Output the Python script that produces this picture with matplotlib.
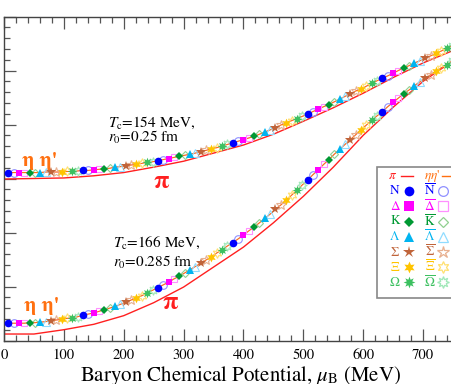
import numpy as np
import matplotlib
matplotlib.use('Agg')
import matplotlib.pyplot as plt
from matplotlib.lines import Line2D
from matplotlib.patches import Rectangle
from matplotlib.ticker import MultipleLocator

plt.rcParams['font.family'] = ['STIXGeneral', 'DejaVu Serif']
plt.rcParams['mathtext.fontset'] = 'stix'

# Marker grid: particle / antiparticle points alternate every 125/14 MeV
MU0 = 7.0
MU_STEP = 125.0 / 14

# Tc = 154 MeV, r0 = 0.25 fm  (hadron curves, markers lie on them)
upper_y = [3.11, 3.11, 3.11, 3.11, 3.11, 3.11, 3.11, 3.12, 3.12, 3.12,
           3.12, 3.13, 3.13, 3.14, 3.15, 3.15, 3.16, 3.17, 3.18, 3.19,
           3.21, 3.22, 3.23, 3.25, 3.26, 3.28, 3.30, 3.31, 3.33, 3.35,
           3.37, 3.39, 3.41, 3.43, 3.45, 3.47, 3.50, 3.52, 3.55, 3.57,
           3.60, 3.63, 3.66, 3.69, 3.72, 3.75, 3.78, 3.82, 3.86, 3.90,
           3.94, 3.99, 4.03, 4.07, 4.11, 4.15, 4.19, 4.24, 4.28, 4.33,
           4.37, 4.42, 4.47, 4.52, 4.57, 4.62, 4.66, 4.71, 4.76, 4.81,
           4.86, 4.90, 4.95, 5.00, 5.05, 5.09, 5.14, 5.18, 5.23, 5.27,
           5.32, 5.36, 5.41, 5.45]

# Tc = 166 MeV, r0 = 0.285 fm
lower_y = [0.32, 0.32, 0.32, 0.32, 0.33, 0.33, 0.34, 0.35, 0.36, 0.38,
           0.39, 0.41, 0.42, 0.44, 0.47, 0.49, 0.51, 0.54, 0.57, 0.60,
           0.63, 0.67, 0.71, 0.75, 0.79, 0.83, 0.88, 0.93, 0.98, 1.03,
           1.08, 1.14, 1.19, 1.25, 1.31, 1.37, 1.43, 1.49, 1.55, 1.62,
           1.68, 1.75, 1.81, 1.88, 1.95, 2.03, 2.10, 2.18, 2.26, 2.34,
           2.43, 2.51, 2.60, 2.69, 2.78, 2.88, 2.97, 3.07, 3.16, 3.26,
           3.35, 3.45, 3.54, 3.63, 3.72, 3.81, 3.90, 3.99, 4.08, 4.16,
           4.24, 4.33, 4.41, 4.49, 4.57, 4.64, 4.72, 4.79, 4.86, 4.92,
           4.99, 5.05, 5.11, 5.17]

# pion curves
mu_pi = [0, 50, 100, 150, 200, 250, 300, 350, 400, 450, 500, 550, 600, 650, 700, 750]
upper_pi = [2.99, 3.00, 3.01, 3.05, 3.11, 3.21, 3.32, 3.47, 3.62, 3.82,
            4.06, 4.31, 4.58, 4.87, 5.14, 5.37]
lower_pi = [0.12, 0.12, 0.20, 0.30, 0.46, 0.70, 0.99, 1.36, 1.73, 2.18,
            2.67, 3.21, 3.80, 4.32, 4.80, 5.18]

labels = ['N', r'$\Delta$', 'K', r'$\Lambda$', r'$\Sigma$', r'$\Xi$', r'$\Omega$']
anti_labels = [r'$\overline{\rm N}$', r'$\overline{\Delta}$', r'$\overline{\rm K}$',
               r'$\overline{\Lambda}$', r'$\overline{\Sigma}$', r'$\overline{\Xi}$',
               r'$\overline{\Omega}$']
colors = ['#0000ff', '#ff00ff', '#009933', '#00b4f0', '#c0643a', '#ffc400', '#3cc060']
light = ['#9090ff', '#ff90ff', '#90d090', '#90dcff', '#e8b090', '#ffe070', '#a0e8b8']
markers = ['o', 's', 'D', '^', '*', (6, 1, 0), (8, 1, 0)]
msizes = [5.5, 5.0, 4.0, 5.5, 7.5, 7.0, 7.0]

RED = '#ff2020'
ORANGE = '#ff7010'
W, H = 452, 384

fig = plt.figure(figsize=(W / 100, H / 100), dpi=100)
ax = fig.add_axes([4 / W, 1 - 340.5 / H, 473 / W, 324 / H])


def draw_branch(y, ypi):
    mu = MU0 + MU_STEP * np.arange(len(y))
    ax.plot(mu_pi, ypi, color=RED, lw=1.0, zorder=2)
    ax.plot(mu, y, color='#e0a0ff', lw=0.7, alpha=0.8, zorder=2)
    ax.plot(mu, y, color=ORANGE, lw=0.8, zorder=2)
    for k in range(7):
        ax.plot(mu, y, ls='none', marker=markers[k], color=colors[k],
                ms=msizes[k], mew=0, markevery=slice(2 * k, None, 14), zorder=4)
        ax.plot(mu, y, ls='none', marker=markers[k], mfc='none', mec=light[k],
                ms=msizes[k], mew=0.8, markevery=slice(2 * k + 1, None, 14), zorder=3)


draw_branch(upper_y, upper_pi)
draw_branch(lower_y, lower_pi)

ax.set_xlim(0, 790)
ax.set_ylim(0, 6)
ax.xaxis.set_major_locator(MultipleLocator(100))
ax.xaxis.set_minor_locator(MultipleLocator(20))
ax.yaxis.set_major_locator(MultipleLocator(1))
ax.yaxis.set_minor_locator(MultipleLocator(0.2))
ax.tick_params(which='both', direction='in', top=True, right=True,
               labelleft=False, color='#555555', width=0.9)
ax.tick_params(which='major', length=8.5, labelsize=10.5, pad=6)
ax.tick_params(which='minor', length=4.5)
for s in ax.spines.values():
    s.set_color('#444444')
    s.set_linewidth(1.0)

ax.set_xlabel(r'Baryon Chemical Potential, $\mu_{\rm B}$ (MeV)', fontsize=15, labelpad=1)

# annotations
ax.text(174, 3.96, r'$T_{\rm c}$=154 MeV,', fontsize=11, va='baseline')
ax.text(174, 3.67, r'$r_0$=0.25 fm', fontsize=11, va='baseline')
ax.text(182, 1.74, r'$T_{\rm c}$=166 MeV,', fontsize=11, va='baseline')
ax.text(182, 1.37, r'$r_0$=0.285 fm', fontsize=11, va='baseline')
ax.text(60, 3.32, "η η'", fontsize=15, fontweight='bold', color=ORANGE,
        ha='center', va='center')
ax.text(63, 0.64, "η η'", fontsize=15, fontweight='bold', color=ORANGE,
        ha='center', va='center')
ax.text(263, 2.94, 'π', fontsize=18, fontweight='bold', color=RED,
        ha='center', va='center')
ax.text(278, 0.69, 'π', fontsize=18, fontweight='bold', color=RED,
        ha='center', va='center')


# legend box drawn by hand (it runs off the right edge of the picture)
def fx(px):
    return px / W


def fy(py):
    return 1 - py / H


fig.add_artist(Rectangle((fx(376.7), fy(297.7)), fx(120), 131 / H,
                         transform=fig.transFigure, facecolor='white',
                         edgecolor='#888888', lw=1.2, zorder=5))
rows = [176 + 15.2 * i for i in range(8)]
fig.text(fx(393), fy(rows[0]), r'$\pi$', color=RED, fontsize=9.5,
         ha='center', va='center', zorder=6)
fig.add_artist(Line2D([fx(401), fx(413)], [fy(rows[0])] * 2, color=RED, lw=1.0,
                      transform=fig.transFigure, zorder=6))
fig.text(fx(432), fy(rows[0]), r"$\eta\eta$'", color=ORANGE, fontsize=9.5,
         ha='center', va='center', zorder=6)
fig.add_artist(Line2D([fx(442), fx(456)], [fy(rows[0])] * 2, color=ORANGE, lw=1.0,
                      transform=fig.transFigure, zorder=6))
for k in range(7):
    yk = fy(rows[k + 1])
    fig.text(fx(395), yk, labels[k], color=colors[k], fontsize=9.5,
             ha='center', va='center', zorder=6)
    fig.add_artist(Line2D([fx(409)], [yk], ls='none', marker=markers[k],
                          color=colors[k], ms=msizes[k] + 1.5, mew=0,
                          transform=fig.transFigure, zorder=6))
    fig.text(fx(430), yk, anti_labels[k], color=colors[k], fontsize=9.5,
             ha='center', va='center', zorder=6)
    fig.add_artist(Line2D([fx(443)], [yk], ls='none', marker=markers[k],
                          mfc='none', mec=light[k], ms=msizes[k] + 1.5, mew=0.9,
                          transform=fig.transFigure, zorder=6))

fig.savefig('out.png', dpi=100)
